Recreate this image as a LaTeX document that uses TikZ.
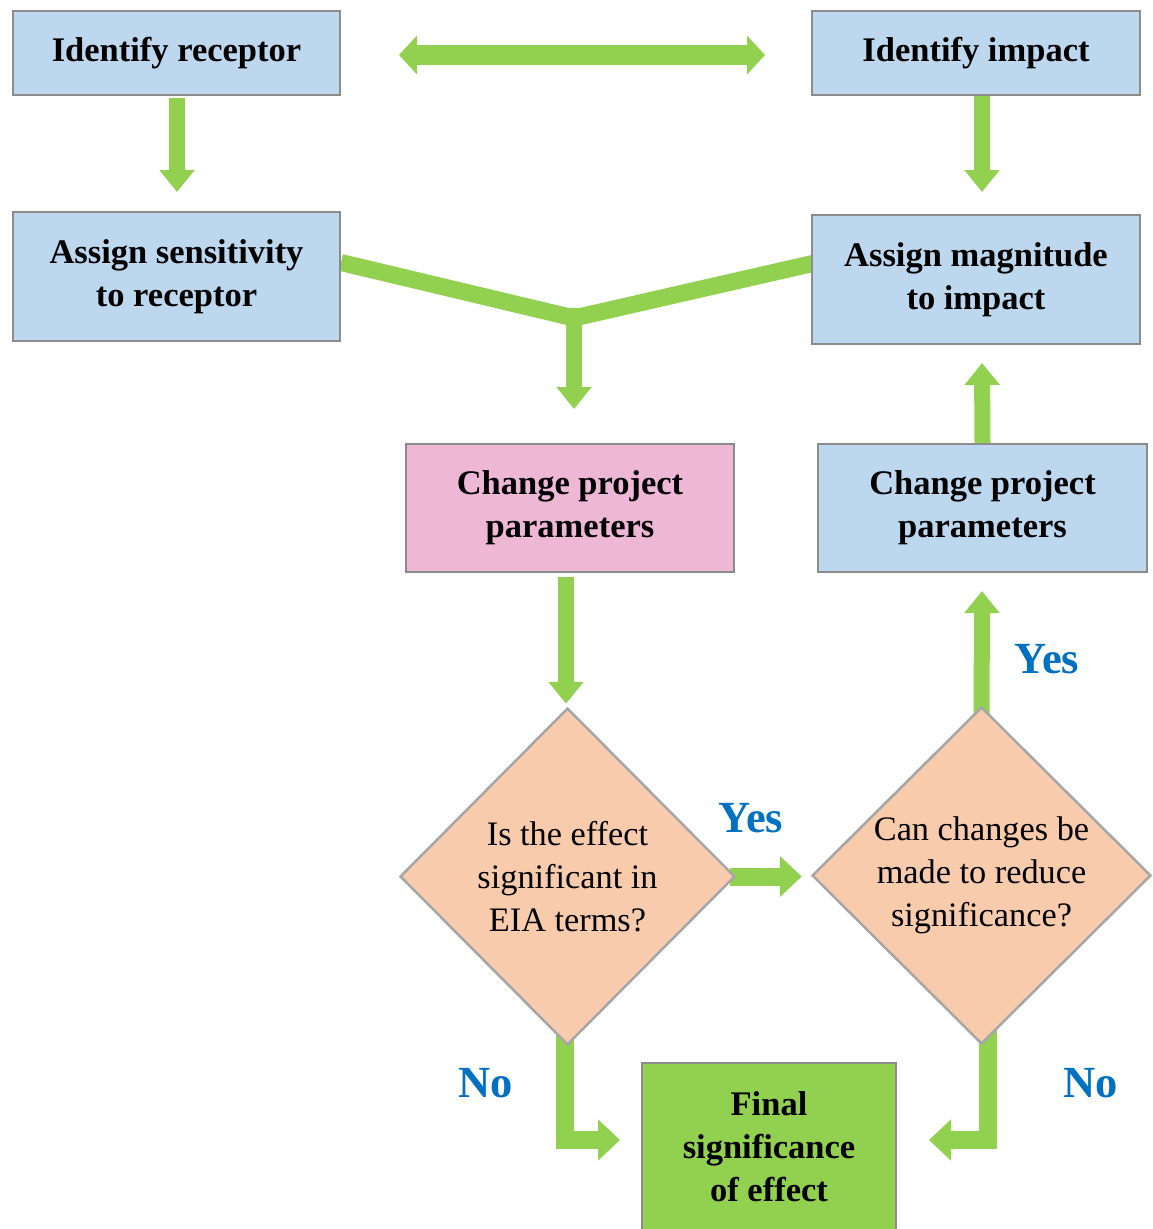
\documentclass[tikz,border=0pt]{standalone}
\usepackage{fontspec}
\setmainfont{Liberation Serif}
\usetikzlibrary{shapes.geometric,arrows.meta,calc,backgrounds}
\definecolor{boxblue}{HTML}{BDD7EE}
\definecolor{boxpink}{HTML}{EDB7D5}
\definecolor{dpeach}{HTML}{F8CBAD}
\definecolor{agreen}{HTML}{92D050}
\definecolor{lblue}{HTML}{0070C0}
\definecolor{bord}{HTML}{8C8C8C}
\definecolor{dbord}{HTML}{A6A6A6}
\begin{document}
\begin{tikzpicture}[x=1pt,y=-1pt,
  box/.style={draw=bord, line width=2pt, fill=boxblue, inner sep=0pt, align=center,
    font=\fontsize{34.5}{43}\selectfont\bfseries},
  dia/.style={diamond, draw=dbord, line width=2.5pt, fill=dpeach, inner sep=0pt, align=center,
    font=\fontsize{34.3}{43}\selectfont},
  arr/.style={draw=agreen, line width=16pt, line join=miter, -{Triangle[width=34pt,length=22pt]}},
  barr/.style={draw=agreen, line width=18pt, line join=miter, -{Triangle[width=40pt,length=22pt]}},
  dbl/.style={draw=agreen, line width=20pt, {Triangle[width=38pt,length=18pt]}-{Triangle[width=38pt,length=18pt]}},
  yline/.style={draw=agreen, line width=17pt, line join=miter},
  lbl/.style={text=lblue, font=\fontsize{44.5}{50}\selectfont\bfseries, inner sep=0pt}
]
\useasboundingbox (0,0) rectangle (1152,1229);

% boxes
\node[box, minimum width=327pt, minimum height=84pt] (rec) at (176.5,53) {Identify receptor};
\node[box, minimum width=328pt, minimum height=84pt] (imp) at (976,53) {Identify impact};
\node[box, minimum width=327pt, minimum height=129pt] (sens) at (176.5,276.5) {Assign sensitivity\\to receptor};
\node[box, minimum width=328pt, minimum height=129pt] (mag) at (976,279.5) {Assign magnitude\\to impact};
\node[box, fill=boxpink, minimum width=328pt, minimum height=128pt] (cpp1) at (570,508) {Change project\\parameters};
\node[box, minimum width=329pt, minimum height=128pt] (cpp2) at (982.5,508) {Change project\\parameters};

% diamonds
\node[dia, minimum width=335pt, minimum height=337pt] (d1) at (567.5,876.5) {Is the effect\\significant in\\EIA terms?};
\node[dia, minimum width=339pt, minimum height=337pt] (d2) at (981.5,875.5) {Can changes be\\made to reduce\\significance?};

% final
\node[box, fill=agreen, minimum width=254pt, minimum height=168pt] (fin) at (769,1147) {Final\\significance\\of effect};

% labels
\node[lbl] (y1) at (751,818) {Yes};
\node[lbl] (y2) at (1047,659) {Yes};
\node[lbl] (n1) at (486,1083) {No};
\node[lbl] (n2) at (1091,1083) {No};

\coordinate (m) at (574,318);

\begin{scope}[on background layer]
  \draw[dbl] ($(rec.east)+(58,2)$) -- ($(imp.west)+(-46,2)$);
  \draw[arr] ($(rec.south)+(0.5,2)$) -- ($(sens.north)+(0.5,-19)$);
  \draw[arr] ($(imp.south)+(6,0)$) -- ($(mag.north)+(6,-22)$);
  \draw[yline] ($(sens.east)+(0,-14)$) -- (m) -- ($(mag.west)+(6,-17)$);
  \draw[arr] ($(m)+(0,-10)$) -- ($(cpp1.north)+(4,-34)$);
  \draw[arr] (cpp2.north) -- ($(mag.south)+(6,18)$);
  \draw[arr] ($(d1.north |- cpp1.south)+(-1.5,4)$) -- ($(d1.north)+(-1.5,-3)$);
  \draw[barr] ($(d1.east)+(-6,0)$) -- ($(d2.west)+(-9,1)$);
  \draw[arr] ($(d2.north)+(0,20)$) -- ($(cpp2.south)+(-0.5,18)$);
  \draw[barr] ($(d1.south)+(-3,-20)$) |- ($(fin.west)+(-21,-7)$);
  \draw[barr] ($(d2.south)+(6,-20)$) |- ($(fin.east)+(32,-7)$);
\end{scope}
\end{tikzpicture}
\end{document}
